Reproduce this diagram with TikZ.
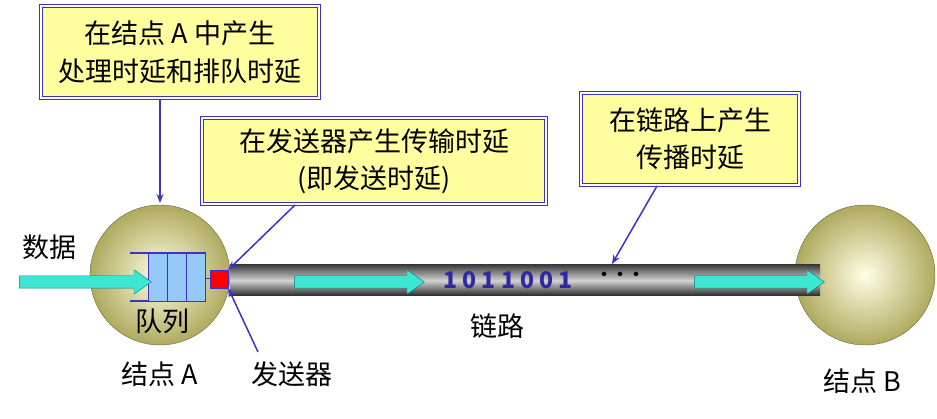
\documentclass[tikz,border=0pt]{standalone}
\usepackage{fontspec}
\setmainfont{Noto Sans CJK SC}
\usetikzlibrary{arrows.meta,shapes.arrows}
\definecolor{bl}{RGB}{60,50,200}
\definecolor{yel}{RGB}{255,255,160}
\definecolor{cy}{RGB}{60,230,210}
\definecolor{ol}{RGB}{175,170,95}
\definecolor{qb}{RGB}{150,200,250}
\tikzset{
 callout/.style={draw=bl,double=white,double distance=1.6pt,line width=1.2pt,fill=yel,inner sep=0pt},
 ptr/.style={draw=bl,line width=1.5pt,-{Stealth[length=9pt,width=7pt]}},
 lbl/.style={font=\fontsize{27}{30}\selectfont,inner sep=0pt},
 flow/.style={single arrow,draw=teal,fill=cy,minimum height=130pt,single arrow head extend=6pt,minimum width=24pt,inner xsep=0pt,inner ysep=6pt,single arrow tip angle=70},
 ball/.style={inner color=white!90!yellow,outer color=ol,draw=ol!60!black},
}
\begin{document}
\begin{tikzpicture}[x=1pt,y=-1pt]
\useasboundingbox (0,0) rectangle (937,419);
% nodes
\shade[ball] (160,275) circle (70);
\node[circle,minimum size=140pt,inner sep=0pt] (A) at (160,275) {};
\shade[ball] (865,275) circle (70);
\node[circle,minimum size=140pt,inner sep=0pt] (B) at (865,275) {};
% tube
\shade[top color=black!75,bottom color=black!85,middle color=gray!35,shading angle=0] (230,265) rectangle (820,296);
\node (tube) at (525,280) {};
% queue
\draw[bl,line width=1.5pt] (130,253) -- (205,253) -- (205,301) -- (130,301);
\foreach \i in {0,1,2}{\draw[bl,fill=qb,line width=0.8pt] (148+19*\i,253) rectangle (167+19*\i,301);}
\node[draw=bl,fill=red,minimum size=18pt,inner sep=0pt] (tx) at (219,279) {};
\draw[bl,line width=1pt] (205,279) -- (tx.west);
% flows
\node[flow,minimum height=132pt] (f1) at (81,282) {};
\node[flow] (f2) at (355,282) {};
\node[flow] (f3) at (755,282) {};
\node[text=bl!80!black,font=\fontsize{23}{23}\bfseries\itshape] (bits) at (508,280) {1 0 1 1 0 0 1};
\node[font=\fontsize{16}{16}\bfseries] (dots) at (620,276) {···};
% labels
\node[lbl] (d) at (50,247) {数据};
\node[lbl] (q) at (162,321) {队列};
\node[lbl] (na) at (160,374) {结点 A};
\node[lbl] (tr) at (292,374) {发送器};
\node[lbl] (lk) at (497,326) {链路};
\node[lbl] (nb) at (862,381) {结点 B};
% callouts
\node[callout,minimum width=278pt,minimum height=92pt,align=center,font=\fontsize{27}{38}\selectfont] (c1) at (180,52) {在结点 A 中产生\\处理时延和排队时延};
\node[callout,minimum width=344pt,minimum height=86pt,align=center,font=\fontsize{27}{37}\selectfont] (c2) at (374,161) {在发送器产生传输时延\\(即发送时延)};
\node[callout,minimum width=218pt,minimum height=92pt,align=center,font=\fontsize{27}{37}\selectfont] (c3) at (690,139) {在链路上产生\\传播时延};
% pointers
\draw[ptr] (c1.south -| 160,0) -- (160,203);
\draw[ptr] (295,205) -- (tx.north east);
\draw[ptr] (657,186) -- (612,264);
\draw[ptr] (258,352) -- (tx.south east);
\end{tikzpicture}
\end{document}
